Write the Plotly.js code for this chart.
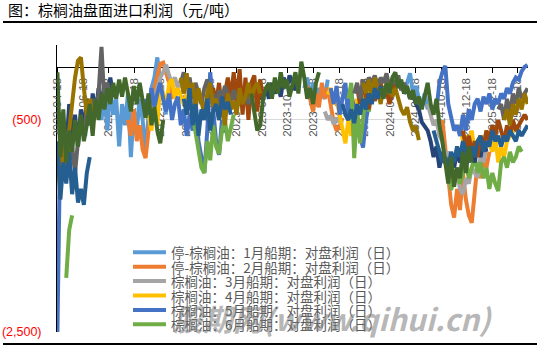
<!DOCTYPE html>
<html><head><meta charset="utf-8">
<script src="https://cdn.plot.ly/plotly-3.0.1.min.js"></script>
<style>html,body{margin:0;padding:0;background:#fff}#chart{width:541px;height:349px}</style>
</head><body><div id="chart"></div>
<script>
// ---- data ----
const startDate = '2022-04-18';   // weekly samples
const weeks = 161;
const tickDates = ['2022-04-18','2022-06-18','2022-08-18','2022-10-18','2022-12-18','2023-02-18','2023-04-18','2023-06-18','2023-08-18','2023-10-18','2023-12-18','2024-02-18','2024-04-18','2024-06-18','2024-08-18','2024-10-18','2024-12-18','2025-02-18','2025-04-18'];
const yTickVals = [-500, -2500];
const yTickText = ['(500)', '(2,500)'];
const seriesNames = ['停-棕榈油：1月船期：对盘利润（日）','停-棕榈油：2月船期：对盘利润（日）','棕榈油：3月船期：对盘利润（日）','棕榈油：4月船期：对盘利润（日）','棕榈油：5月船期：对盘利润（日）','棕榈油：6月船期：对盘利润（日）','棕榈油：7月船期：对盘利润（日）','棕榈油：8月船期：对盘利润（日）','棕榈油：9月船期：对盘利润（日）','棕榈油：10月船期：对盘利润（日）','棕榈油：11月船期：对盘利润（日）','棕榈油：12月船期：对盘利润（日）'];
const seriesColors = ['#5B9BD5','#ED7D31','#A5A5A5','#FFC000','#4472C4','#70AD47','#264478','#9E480E','#636363','#997300','#255E91','#43682B'];
// each series: [first week index, values...]
const s1 = [[14,[-350,-500,-250,-600,-200,-450,-300,-750,-350,-550,-250,-850,-400,-600,-300,-500,-830,-450,-200,-100,90,-150,-300,-450]],
            [84,[-200,-100,-300,-150,-350,-200,-250,-300,-120]],
            [118,[-200,-150,-60,-250,-180,-300,-350,-250,-400]]];
const s2 = [[24,[-500,-650,-400,-700,-550,-780,-860,-600,-350,-200,-100,30,40,-50,-150,-300,-200]],
            [85,[-180,-300,-420,-250,-380,-150,-300,-200,-350,-520,-600,-560,-480]],
            [131,[-500,-800,-1100,-1300,-1420,-1150,-1350,-1000,-1250,-1400,-1470,-1200,-900,-1050,-850,-950,-800]]];
const s3 = [[33,[-300,-200,-100,-50,20,-80,-150,-100,-200,-120,-250,-180,-300]],
            [91,[-420,-500,-460,-540,-480,-520]],
            [126,[-350,-450,-550,-500,-650,-700,-850,-800,-950,-1050,-1000,-1150,-1200,-1050,-1100,-950,-1000,-1040,-850,-900,-750,-700,-800,-650,-600]]];
const s4 = [[31,[-450,-600,-300,-550,-150,-250,-400,-150,-120,-300,-200,-280,-350,-250]],
            [92,[-260,-200,-350,-300,-450,-600,-720,-500,-650,-400,-300]],
            [136,[-600,-550,-700,-650,-750,-600,-800,-700,-650,-750,-600,-700,-800,-650,-900,-750,-850,-700,-650,-600,-550]]];
const s5 = [[0,[-2500,-600]],
            [30,[-300,-450,-200,-380,-250,-150,-300,-420,-250,-500,-350,-280,-550,-400,-650,-450,-600,-300,-700,-850,-1000,-600,-50,-400,-700,-830,-500,-620]],
            [93,[-200,-350,-180,-450,-300,-150,-500,-250,-400,-550,-650,-760,-500,-350]],
            [129,[-400,-150,-50,10,-350,-500,-600,-550,-650,-450,-600,-400,-500,-350,-300,-420,-280,-350,-250,-400,-300,-350,-250,-300,-200,-250,-150,-100,-120,-40,0,20]]];
const s6 = [[3,[-1990,-1540,-1400]],
            [46,[-450,-600,-800,-950,-1000,-700,-880,-550,-750,-820,-600,-500,-700,-550,-450]],
            [99,[-300,-150,-860,-400,-720,-500,-200,-420,-120,-300,-200]],
            [133,[-900,-1160,-1050,-950,-1100,-1000,-900,-1050,-950,-850,-1000,-900,-1050,-950,-1150,-1000,-1100,-1170,-900,-850,-950,-800,-900,-850,-750,-800]]];
const s7 = [[0,[-300,-700,-500,-800,-350,-650,-450,-750,-400,-600,-300,-550,-250,-450,-200,-380,-150,-320,-100,-280,-200]],
            [68,[-150,-300,-250,-200,-300,-150,-250,-180,-280,-100,-200,-80,-150,-220,-120]],
            [117,[-150,-250,-200,-300,-250,-350,-400,-520,-560,-600,-700,-850,-750,-950,-800,-900,-1000,-850,-950,-800,-900,-750,-850,-700,-800,-900,-750,-850,-700,-800]]];
const s8 = [[52,[-300,-200,-350,-150,-400,-250,-100,-300,-50,-350,-20,-450,-100,-500,-150,-80,-420,-120,-300]],
            [102,[-200,-350,-150,-300,-400,-180,-320,-250,-150,-280,-200,-350,-230,-150]],
            [138,[-600,-750,-650,-800,-700,-850,-650,-750,-600,-700,-550,-650,-500,-600,-700,-550,-650,-500,-600,-550,-500,-450,-500]]];
const s9 = [[3,[-600,-900,-750,-1000,-700,-500,-650,-400,-550,-300,-450,-250,190,-350,-150,-300]],
            [42,[-150,-50,-200,-100,-300,-150,-250,-350,-200,-120,-300,-250,-400,-220,-300,-180,-260,-350,-220,-300,-250,-330,-280,-350,-240]],
            [101,[-250,-150,-300,-120,-200,-100,-150,-80,-180,-100,-150,-60,-200,-120,-160,-80,-220,-150,-250]],
            [150,[-400,-350,-500,-300,-450,-250,-350,-200,-300,-250,-200]]];
const s10 = [[0,[-900,-1150,-700,-1050,-600,-350,-100,60,90,-200,-450,-300,-520,-380]],
             [42,[-100,-250,-60,-300,-150,-400,-200,-350,-450,-250,-150,-380,-300,-500,-350,-550,-250,-400,-320,-450,-200,-350,-280,-150,-300,-200,-150,-250]],
             [104,[-150,-250,-120,-300,-100,-200,-350,-180,-250,-150,-280,-200,-300,-400,-450,-380,-520,-600,-560,-690]],
             [152,[-500,-400,-550,-350,-450,-300,-400,-250,-350]]];
const s11 = [[0,[-700,-1250,-900,-1100,-800,-1200,-950,-1280,-1150,-1300,-1000,-850]],
             [43,[-300,-450,-200,-550,-350,-650,-400,-500,-300,-600,-420,-350,-500,-280,-400,-330,-450]],
             [97,[-350,-450,-500,-400,-530,-350,-450,-300,-400,-250,-350,-200,-300,-180,-280]],
             [128,[-600,-700,-800,-900,-850,-950,-800,-900,-750,-850,-700,-800,-900,-750,-850,-700,-650,-800,-700,-750,-600,-700,-650,-750,-650,-700,-600,-650,-700,-600,-650,-600,-550]]];
const s12 = [[0,[-50,-850,-400,-900,-600,-800,-500,-750,-450,-700,-550,-350,-650,-300,-500,-250,-400,-200,-350,-150,-300,-120,-280,-100,-250,-420,-180,-350,-150,-300,-480,-250,-550,-380,-600,-720,-500]],
             [66,[-250,-400,-600,-550,-300,-200,-150,-300,-100,-250,-50,-200,-120,-280,-150,-50,-250,50,-100,-300,-200,-350,-150,-50]],
             [110,[-200,-300,-150,-250,-100,-50,-200,-120,-250,-180,-300,-220,-350,-280,-400,-250,-150,-350,-450,-300,-550,-700,-900,-1100,-850,-1130,-950,-1050,-800,-1000,-750,-900]]];
const allSeries = [s1,s2,s3,s4,s5,s6,s7,s8,s9,s10,s11,s12];
const legendCount = 6;
const watermark = '股期网(www.qihui.cn)';

// ---- build ----
const dates = [];
{ const t0 = new Date(startDate + 'T00:00:00Z').getTime();
  for (let i = 0; i < weeks; i++) dates.push(new Date(t0 + i * 7 * 864e5).toISOString().slice(0, 10)); }

const traces = allSeries.map((segs, k) => {
  const y = new Array(weeks).fill(null);
  segs.forEach(([st, vals]) => vals.forEach((v, j) => { y[st + j] = v; }));
  return {type:'scatter', mode:'lines', x:dates, y:y, name:seriesNames[k], connectgaps:false,
          line:{color:seriesColors[k], width:4, shape:'linear'}, hoverinfo:'skip', showlegend:false};
});

const W = 541, H = 349, L = 57, R = 13, T = 45, B = 17;
const pw = W - L - R, ph = H - T - B;
const px = x => (x - L) / pw, py = y => (H - B - y) / ph;
const yRange = [-2500, 207];

const shapes = [
  {type:'line', xref:'paper', yref:'paper', x0:px(3), x1:px(537), y0:py(22), y1:py(22), line:{color:'#000', width:2}},
  {type:'line', xref:'paper', yref:'paper', x0:px(3), x1:px(537), y0:py(344), y1:py(344), line:{color:'#000', width:2}}
];
const annotations = [];
for (let k = 0; k < legendCount; k++) {
  const ry = 252.3 + 14.4 * k;
  shapes.push({type:'line', xref:'paper', yref:'paper', x0:px(133), x1:px(166), y0:py(ry), y1:py(ry), line:{color:seriesColors[k], width:4}});
  annotations.push({xref:'paper', yref:'paper', x:px(169), y:py(ry), xanchor:'left', yanchor:'middle', showarrow:false,
    text:seriesNames[k], font:{family:'Noto Sans CJK SC', size:13.5, color:'#595959'}});
}
annotations.push({xref:'paper', yref:'paper', x:px(332), y:py(318), xanchor:'center', yanchor:'middle', showarrow:false,
  text:watermark, font:{family:'Noto Sans CJK SC', size:30, color:'rgba(120,120,120,0.55)', weight:'bold', style:'italic'}});

const layout = {
  width:W, height:H, margin:{l:L, r:R, t:T, b:B, pad:0},
  paper_bgcolor:'#fff', plot_bgcolor:'#fff', showlegend:false,
  font:{family:'Liberation Sans, Noto Sans CJK SC', color:'#595959'},
  title:{text:'图：棕榈油盘面进口利润（元/吨）', x:8/W, xanchor:'left', y:1 - 11/H, yanchor:'middle',
         font:{family:'Noto Sans CJK SC', size:15, color:'#000'}},
  xaxis:{type:'date', range:['2022-04-17','2025-05-13'], anchor:'free', position:(0 - yRange[0]) / (yRange[1] - yRange[0]),
         side:'bottom', tickvals:tickDates, ticktext:tickDates, tickangle:-90, ticks:'outside', ticklen:5, tickcolor:'#000', tickwidth:1,
         showline:true, linecolor:'#000', linewidth:1.5, showgrid:false, zeroline:false,
         tickfont:{family:'Liberation Sans', size:11.5, color:'#595959'}, layer:'below traces', automargin:false, fixedrange:true},
  yaxis:{range:yRange, tickvals:yTickVals, ticktext:yTickText, showgrid:true, gridcolor:'#d9d9d9', gridwidth:1,
         zeroline:false, showline:true, linecolor:'#000', linewidth:1, ticks:'', ticklabelstandoff:12,
         tickfont:{family:'Liberation Sans', size:12.5, color:'#ff0000'}, automargin:false, layer:'below traces', fixedrange:true},
  shapes:shapes, annotations:annotations
};
Plotly.newPlot('chart', traces, layout, {staticPlot:true, displayModeBar:false});
</script></body></html>
